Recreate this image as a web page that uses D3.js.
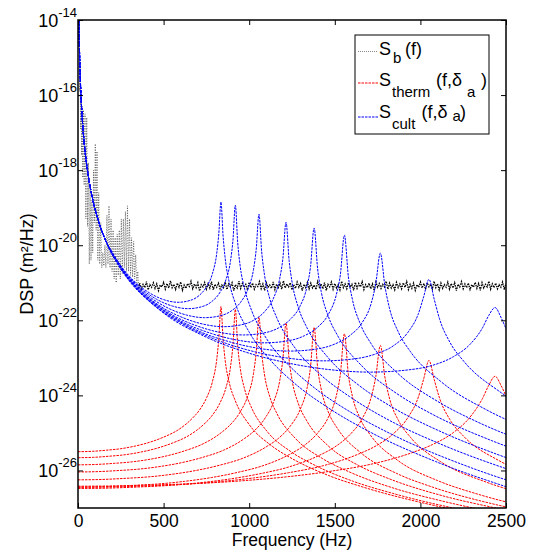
<!DOCTYPE html>
<html>
<head>
<meta charset="utf-8">
<script src="https://cdn.jsdelivr.net/npm/d3@7"></script>
<style>
  body { margin: 0; background: #fff; }
  svg { display: block; font-family: "Liberation Sans", Arial, Helvetica, sans-serif; }
</style>
</head>
<body>
<svg id="chart" width="538" height="552"></svg>
<script>
// ---- data (values are log10 of the PSD, m^2/Hz) ----
const xTicks = [0, 500, 1000, 1500, 2000, 2500];
const yTickExp = [-26, -24, -22, -20, -18, -16, -14];

// resonance frequencies of the 9 modes (Hz)
const resFreq = [835, 919, 1057, 1215, 1379, 1556, 1766, 2050, 2436];
// sample points, as a fraction of each resonance frequency
const relFreq = [0.1, 0.2, 0.3, 0.4, 0.5, 0.6, 0.7, 0.8, 0.85, 0.9, 0.94, 0.97, 0.985, 1,
                 1.015, 1.03, 1.06, 1.1, 1.2, 1.35, 1.5, 1.75, 2, 2.5, 3];

// S_cult: common low frequency part
const cultLowFreq = [5.5, 7, 9, 12, 16, 22, 30, 42, 60, 85, 120, 170];
const cultLowExp = [-14.00, -14.42, -14.86, -15.36, -15.86, -16.41, -16.95, -17.53, -18.15, -18.76, -19.36, -19.96];

const cultExp = [
  [-18.72,-19.90,-20.55,-20.98,-21.27,-21.45,-21.52,-21.45,-21.33,-21.10,-20.76,-20.23,-19.69,-18.85,-19.76,-20.36,-21.02,-21.54,-22.33,-23.08,-23.63,-24.33,-24.89,-25.76,-26.44],
  [-18.88,-20.06,-20.72,-21.15,-21.44,-21.62,-21.69,-21.62,-21.50,-21.27,-20.92,-20.40,-19.86,-18.93,-19.93,-20.53,-21.18,-21.70,-22.50,-23.24,-23.79,-24.49,-25.05,-25.93,-26.61],
  [-19.13,-20.31,-20.96,-21.39,-21.68,-21.86,-21.93,-21.86,-21.74,-21.51,-21.16,-20.64,-20.10,-19.17,-20.17,-20.77,-21.43,-21.95,-22.74,-23.49,-24.03,-24.74,-25.29,-26.17],
  [-19.37,-20.55,-21.20,-21.64,-21.92,-22.10,-22.17,-22.10,-21.98,-21.75,-21.41,-20.88,-20.35,-19.39,-20.41,-21.01,-21.67,-22.19,-22.98,-23.73,-24.28,-24.98,-25.54,-26.41],
  [-19.59,-20.77,-21.42,-21.86,-22.14,-22.32,-22.39,-22.32,-22.20,-21.97,-21.63,-21.10,-20.57,-19.54,-20.63,-21.23,-21.89,-22.41,-23.20,-23.95,-24.50,-25.20,-25.76],
  [-19.80,-20.98,-21.63,-22.07,-22.35,-22.53,-22.60,-22.53,-22.41,-22.18,-21.84,-21.31,-20.78,-19.73,-20.84,-21.44,-22.10,-22.62,-23.41,-24.16,-24.71,-25.41],
  [-20.02,-21.20,-21.85,-22.29,-22.57,-22.75,-22.82,-22.75,-22.63,-22.40,-22.06,-21.54,-21.02,-20.21,-21.08,-21.67,-22.32,-22.84,-23.63,-24.38,-24.93],
  [-20.28,-21.46,-22.11,-22.54,-22.83,-23.01,-23.08,-23.01,-22.89,-22.67,-22.32,-21.82,-21.37,-20.91,-21.44,-21.96,-22.59,-23.10,-23.89,-24.64],
  [-20.58,-21.76,-22.41,-22.84,-23.13,-23.31,-23.38,-23.31,-23.20,-22.97,-22.64,-22.20,-21.87,-21.66,-21.94,-22.33]
];

// S_therm: level at f = 0, then the same relative sample points
const thermBase = [-25.50, -25.66, -25.85, -26.04, -26.25, -26.44, -26.48, -26.45, -26.42];
const thermExp = [
  [-25.49,-25.46,-25.42,-25.35,-25.25,-25.11,-24.92,-24.61,-24.39,-24.06,-23.64,-23.06,-22.49,-21.63,-22.51,-23.08,-23.69,-24.14,-24.79,-25.33,-25.69,-26.13,-26.45,-26.94,-27.31],
  [-25.65,-25.62,-25.58,-25.51,-25.41,-25.27,-25.08,-24.77,-24.55,-24.22,-23.80,-23.22,-22.65,-21.71,-22.67,-23.24,-23.85,-24.30,-24.95,-25.49,-25.85,-26.29,-26.61,-27.10,-27.47],
  [-25.84,-25.81,-25.77,-25.70,-25.60,-25.46,-25.27,-24.96,-24.74,-24.41,-23.99,-23.41,-22.84,-21.91,-22.86,-23.43,-24.04,-24.49,-25.14,-25.68,-26.04,-26.48,-26.80,-27.29],
  [-26.03,-26.00,-25.96,-25.89,-25.79,-25.65,-25.46,-25.15,-24.93,-24.60,-24.18,-23.60,-23.03,-22.07,-23.05,-23.62,-24.23,-24.68,-25.33,-25.87,-26.23,-26.67,-26.99,-27.48],
  [-26.24,-26.21,-26.17,-26.10,-26.00,-25.86,-25.67,-25.36,-25.14,-24.81,-24.39,-23.81,-23.24,-22.19,-23.26,-23.83,-24.44,-24.89,-25.54,-26.08,-26.44,-26.88,-27.20],
  [-26.43,-26.40,-26.36,-26.29,-26.19,-26.05,-25.86,-25.55,-25.33,-25.00,-24.58,-24.00,-23.43,-22.36,-23.45,-24.02,-24.63,-25.08,-25.73,-26.27,-26.63,-27.07],
  [-26.47,-26.44,-26.40,-26.33,-26.23,-26.09,-25.90,-25.59,-25.37,-25.04,-24.62,-24.04,-23.50,-22.67,-23.51,-24.07,-24.67,-25.12,-25.77,-26.31,-26.67],
  [-26.44,-26.41,-26.37,-26.30,-26.20,-26.06,-25.87,-25.56,-25.34,-25.01,-24.59,-24.04,-23.56,-23.07,-23.58,-24.07,-24.65,-25.10,-25.74,-26.28],
  [-26.41,-26.38,-26.34,-26.27,-26.17,-26.03,-25.84,-25.53,-25.31,-24.99,-24.58,-24.08,-23.73,-23.49,-23.75,-24.12]
];

// S_b: measured noise, spiky part below ~360 Hz
const noiseLowFreq = [6,9,12,15,18,21,24,28,32,36,41,46,51,56,61,66,71,76,81,86,91,96,101,106,111,116,121,127,133,139,
  145,151,157,163,169,175,181,187,193,199,205,211,217,223,229,235,241,247,253,259,265,271,277,283,289,295,301,307,313,319,
  325,331,337,343,349,355];
const noiseLowExp = [-14.1,-15.9,-15.3,-16.9,-16.1,-17.6,-16.3,-18.2,-16.4,-18.4,-16.5,-19.3,-16.6,-19.5,-17.8,-20.5,-18.4,-20.4,-18.8,-20.2,
  -18.0,-19.4,-17.3,-19.6,-17.5,-20.4,-18.6,-20.5,-19.4,-20.6,-20.2,-20.55,-20.0,-20.6,-19.2,-20.5,-18.95,-20.6,-19.3,-20.7,
  -19.6,-20.9,-19.8,-21.0,-19.7,-20.8,-19.6,-20.9,-19.3,-20.75,-19.3,-20.6,-19.1,-20.7,-18.95,-20.7,-19.3,-20.8,-19.8,-20.85,
  -19.9,-20.9,-20.25,-21.0,-20.7,-21.15];
// S_b: flat floor, one value every 10 Hz from 360 Hz
const noiseFlatStart = 360, noiseFlatStep = 10;
const noiseFlatExp = [
  -21.01,-21.16,-21.04,-21.13,-20.97,-21.19,-21.05,-21.12,-21.00,-21.15,
  -21.03,-21.21,-21.06,-21.11,-20.99,-21.17,-21.02,-21.14,-20.95,-21.13,
  -21.04,-21.18,-21.01,-21.12,-20.98,-21.20,-21.06,-21.15,-21.02,-21.10,
  -20.96,-21.16,-21.03,-21.13,-21.00,-21.22,-21.05,-21.11,-20.99,-21.17,
  -21.02,-21.14,-20.97,-21.19,-21.04,-21.12,-21.01,-21.16,-21.06,-21.13,
  -20.98,-21.18,-21.03,-21.11,-21.00,-21.21,-21.05,-21.14,-20.96,-21.15,
  -21.02,-21.12,-21.04,-21.19,-20.99,-21.13,-21.01,-21.17,-21.05,-21.10,
  -20.97,-21.16,-21.03,-21.20,-21.00,-21.12,-21.06,-21.15,-20.98,-21.18,
  -21.04,-21.13,-21.01,-21.17,-20.95,-21.14,-21.03,-21.11,-21.00,-21.19,
  -21.05,-21.15,-20.98,-21.12,-21.02,-21.21,-21.04,-21.13,-20.99,-21.16,
  -21.01,-21.14,-21.06,-21.18,-20.97,-21.12,-21.03,-21.16,-21.00,-21.20,
  -21.04,-21.11,-20.98,-21.17,-21.02,-21.14,-21.05,-21.19,-20.96,-21.13,
  -21.03,-21.16,-21.00,-21.12,-21.04,-21.20,-20.99,-21.15,-21.02,-21.11,
  -20.97,-21.18,-21.05,-21.13,-21.01,-21.16,-21.03,-21.21,-20.98,-21.12,
  -21.02,-21.15,-21.04,-21.11,-20.96,-21.17,-21.01,-21.14,-21.05,-21.19,
  -20.99,-21.13,-21.03,-21.16,-21.00,-21.12,-20.97,-21.18,-21.04,-21.15,
  -21.01,-21.20,-21.05,-21.12,-20.98,-21.14,-21.02,-21.17,-21.00,-21.11,
  -21.04,-21.16,-20.96,-21.13,-21.03,-21.19,-21.01,-21.15,-21.05,-21.12,
  -20.98,-21.17,-21.02,-21.14,-21.00,-21.21,-21.04,-21.11,-20.97,-21.16,
  -21.03,-21.13,-21.01,-21.18,-21.05,-21.12,-20.99,-21.15,-21.02,-21.20,
  -21.00,-21.14,-21.04,-21.11,-20.96,-21.17,-21.03,-21.13,-21.01,-21.16,
  -21.05,-21.12,-20.98,-21.18,-21.02];

// ---- chart ----
class DspChart {
  constructor() {
    this.svg = d3.select("#chart");
    this.left = 78; this.right = 506; this.top = 20; this.bottom = 508;

    this.x = d3.scaleLinear().domain([0, 2500]).range([this.left, this.right]);
    this.y = d3.scaleLog().domain([1e-27, 1e-14]).range([this.bottom, this.top]);

    this.line = d3.line()
      .x(d => this.x(d[0]))
      .y(d => this.y(Math.pow(10, d[1])))
      .curve(d3.curveMonotoneX);

    this.svg.append("defs").append("clipPath").attr("id", "plotClip")
      .append("rect")
      .attr("x", this.left).attr("y", this.top)
      .attr("width", this.right - this.left).attr("height", this.bottom - this.top);

    this.plot = this.svg.append("g").attr("clip-path", "url(#plotClip)");

    this.drawNoise();
    this.drawCurves();
    this.drawAxes();
    this.drawLegend();
  }

  drawNoise() {
    let straight = d3.line()
      .x(d => this.x(d[0]))
      .y(d => this.y(Math.pow(10, d[1])));

    // spiky low-frequency part, sparser dots
    let low = noiseLowFreq.map((f, i) => [f, noiseLowExp[i]]);
    this.plot.append("path")
      .attr("d", straight(low))
      .attr("fill", "none")
      .attr("stroke", "#333")
      .attr("stroke-width", 0.7)
      .attr("stroke-dasharray", "1,1.5");

    let flat = [low[low.length - 1]];
    noiseFlatExp.forEach((e, i) => flat.push([noiseFlatStart + i * noiseFlatStep, e]));
    this.plot.append("path")
      .attr("d", straight(flat))
      .attr("fill", "none")
      .attr("stroke", "#000")
      .attr("stroke-width", 1.3)
      .attr("stroke-dasharray", "1.5,1");
  }

  drawCurves() {
    // thermal curves (red)
    thermExp.forEach((vals, k) => {
      let pts = [[0, thermBase[k]]];
      vals.forEach((e, i) => pts.push([relFreq[i] * resFreq[k], e]));
      this.plot.append("path")
        .attr("d", this.line(pts))
        .attr("fill", "none")
        .attr("stroke", "#ff0000")
        .attr("stroke-width", 1)
        .attr("stroke-dasharray", "2.5,1");
    });

    // S_cult (blue)
    let lowEnd = cultLowFreq[cultLowFreq.length - 1];
    cultExp.forEach((vals, k) => {
      let pts = cultLowFreq.map((f, i) => [f, cultLowExp[i]]);
      vals.forEach((e, i) => {
        let f = relFreq[i] * resFreq[k];
        if (f > lowEnd) pts.push([f, e]);
      });
      this.plot.append("path")
        .attr("d", this.line(pts))
        .attr("fill", "none")
        .attr("stroke", "#0000ff")
        .attr("stroke-width", 1)
        .attr("stroke-dasharray", "2.5,1");
    });
  }

  drawAxes() {
    let svg = this.svg;
    let tickVals = yTickExp.map(e => Math.pow(10, e));

    svg.append("g")
      .attr("transform", `translate(0,${this.bottom})`)
      .call(d3.axisBottom(this.x).tickValues(xTicks).tickSize(-5).tickSizeOuter(0).tickPadding(6.5)
        .tickFormat(d3.format("d")))
      .call(g => g.select(".domain").remove())
      .attr("font-size", 17.5)
      .attr("font-family", null);

    svg.append("g")
      .attr("transform", `translate(0,${this.top})`)
      .call(d3.axisTop(this.x).tickValues(xTicks).tickSize(-5).tickSizeOuter(0).tickFormat(""))
      .call(g => g.select(".domain").remove());

    svg.append("g")
      .attr("transform", `translate(${this.left},0)`)
      .call(d3.axisLeft(this.y).tickValues(tickVals).tickSize(-5).tickSizeOuter(0).tickFormat(""))
      .call(g => g.select(".domain").remove());

    svg.append("g")
      .attr("transform", `translate(${this.right},0)`)
      .call(d3.axisRight(this.y).tickValues(tickVals).tickSize(-5).tickSizeOuter(0).tickFormat(""))
      .call(g => g.select(".domain").remove());

    // 10^n labels
    let labels = svg.append("g").attr("text-anchor", "end");
    yTickExp.forEach(e => {
      let t = labels.append("text")
        .attr("x", this.left - 1)
        .attr("y", this.y(Math.pow(10, e)) + 6.5);
      t.append("tspan").attr("font-size", 18).text("10");
      t.append("tspan").attr("font-size", 13).attr("dy", -9.5).text(String(e));
    });

    svg.append("rect")
      .attr("x", this.left).attr("y", this.top)
      .attr("width", this.right - this.left).attr("height", this.bottom - this.top)
      .attr("fill", "none").attr("stroke", "#000").attr("stroke-width", 1.5);

    svg.append("text")
      .attr("x", (this.left + this.right) / 2).attr("y", 546)
      .attr("text-anchor", "middle").attr("font-size", 17.5)
      .text("Frequency (Hz)");

    svg.append("text")
      .attr("transform", `translate(33,${(this.top + this.bottom) / 2}) rotate(-90)`)
      .attr("text-anchor", "middle").attr("font-size", 18)
      .text("DSP (m\u00B2/Hz)");
  }

  drawLegend() {
    let lg = this.svg.append("g");
    lg.append("rect")
      .attr("x", 355).attr("y", 35).attr("width", 134).attr("height", 99)
      .attr("fill", "#fff").attr("stroke", "#000").attr("stroke-width", 1);

    let samples = [
      {y: 51.5, color: "#888", dash: "1,1"},
      {y: 83, color: "#ff0000", dash: "2.5,1"},
      {y: 117, color: "#0000ff", dash: "2.5,1"}
    ];
    samples.forEach(s => {
      lg.append("line")
        .attr("x1", 358).attr("x2", 378).attr("y1", s.y).attr("y2", s.y)
        .attr("stroke", s.color).attr("stroke-width", 1).attr("stroke-dasharray", s.dash);
    });

    let pieces = [
      ["S", 379, 54.5, 18], ["b", 393, 63, 15], ["(f)", 405, 54.5, 18],
      ["S", 379, 86, 18], ["therm", 392, 97, 15], ["(f,\u03B4", 436, 86, 18], ["a", 467, 96.5, 15], [")", 481, 86, 18],
      ["S", 379, 117.5, 18], ["cult", 392, 128.5, 15], ["(f,\u03B4", 421.5, 117.5, 18], ["a", 452.5, 121, 15], [")", 460, 117.5, 18]
    ];
    pieces.forEach(p => {
      lg.append("text")
        .attr("x", p[1]).attr("y", p[2]).attr("font-size", p[3])
        .text(p[0]);
    });
  }
}

new DspChart();
</script>
</body>
</html>
